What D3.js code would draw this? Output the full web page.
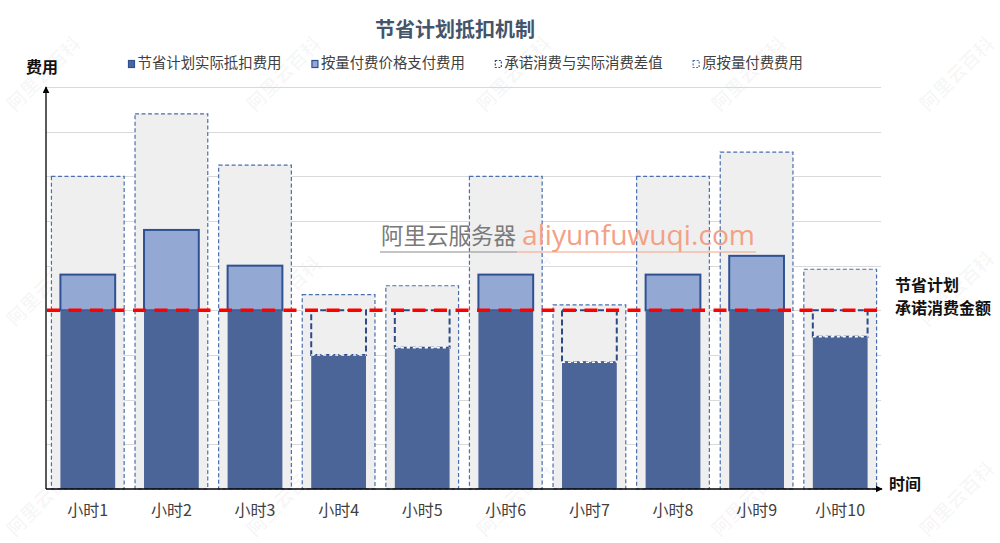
<!DOCTYPE html>
<html><head><meta charset="utf-8">
<script src="https://cdn.jsdelivr.net/npm/d3@7/dist/d3.min.js"></script>
<style>
html,body{margin:0;padding:0;background:#fff;}
svg{display:block;font-family:"Noto Sans CJK SC","Noto Sans",sans-serif;}
</style></head>
<body>
<svg id="chart" width="1000" height="543"></svg>
<script>
// ---- data ----
const categories = ["小时1","小时2","小时3","小时4","小时5","小时6","小时7","小时8","小时9","小时10"];
const originalCost = [7.0, 8.4, 7.25, 4.35, 4.55, 7.0, 4.12, 7.0, 7.54, 4.92];   // 原按量付费费用
const actualUsage  = [4.8, 5.8, 5.0, 3.0, 3.16, 4.8, 2.84, 4.8, 5.22, 3.41];     // 实际消费(按节省计划价格)
const commitment = 4.0;                                                        // 节省计划承诺消费金额
const legendLabels = ["节省计划实际抵扣费用","按量付费价格支付费用","承诺消费与实际消费差值","原按量付费费用"];
const yTicks = [1,2,3,4,5,6,7,8,9];

(function(){
const svg = d3.select("#chart");
const mLeft = 46, mRight = 882, mTop = 87, mBottom = 489;

const x = d3.scaleBand().domain(categories).range([mLeft, mRight]).padding(0);
const y = d3.scaleLinear().domain([0, 9]).range([mBottom, mTop]);

const C = {
  dark: "#4b6598", light: "#93a9d3", lightStroke: "#2f5193",
  outerFill: "#efefef", outerStroke: "#4a6fae", diffStroke: "#2c4a86",
  grid: "#d9d9d9", red: "#ff0000"
};

// watermarks (faint diagonal)
const wm = svg.append("g").attr("fill", "#000").attr("fill-opacity", 0.045)
  .attr("font-size", 19).attr("font-weight", "bold");
const wmPos = [[45,75],[285,75],[515,75],[750,75],[958,75],[45,290],[285,295],[515,290],[750,290],[958,290],[45,500],[285,500],[515,500],[750,500],[958,500]];
wmPos.forEach(p => wm.append("text").attr("transform", `translate(${p[0]},${p[1]}) rotate(-45)`)
  .attr("text-anchor", "middle").attr("dominant-baseline", "middle").text("阿里云百科"));

// gridlines
svg.append("g").selectAll("line").data(yTicks).join("line")
  .attr("x1", mLeft).attr("x2", mRight - 1)
  .attr("y1", d => Math.round(y(d)) + 0.5).attr("y2", d => Math.round(y(d)) + 0.5)
  .attr("stroke", C.grid).attr("stroke-width", 1);

const step = x.step();
const outerW = step * 0.87, innerW = step * 0.655;
const cx = c => x(c) + step / 2;

const bars = svg.append("g");
categories.forEach((c, i) => {
  const g = bars.append("g");
  g.append("rect")
    .attr("x", cx(c) - outerW / 2).attr("width", outerW)
    .attr("y", y(originalCost[i])).attr("height", y(0) - y(originalCost[i]))
    .attr("fill", C.outerFill).attr("stroke", C.outerStroke)
    .attr("stroke-width", 1.2).attr("stroke-dasharray", "4,2.5");
  const used = Math.min(actualUsage[i], commitment);
  if (actualUsage[i] > commitment) {
    g.append("rect")
      .attr("x", cx(c) - innerW / 2).attr("width", innerW)
      .attr("y", y(actualUsage[i])).attr("height", y(commitment) - y(actualUsage[i]))
      .attr("fill", C.light).attr("stroke", C.lightStroke).attr("stroke-width", 2);
  } else {
    g.append("rect")
      .attr("x", cx(c) - innerW / 2).attr("width", innerW)
      .attr("y", y(commitment)).attr("height", y(actualUsage[i]) - y(commitment))
      .attr("fill", C.outerFill).attr("stroke", C.diffStroke)
      .attr("stroke-width", 2).attr("stroke-dasharray", "6,3");
  }
  g.append("rect")
    .attr("x", cx(c) - innerW / 2).attr("width", innerW)
    .attr("y", y(used)).attr("height", y(0) - y(used))
    .attr("fill", C.dark);
  if (actualUsage[i] <= commitment) {
    g.append("line")
      .attr("x1", cx(c) - innerW / 2).attr("x2", cx(c) + innerW / 2)
      .attr("y1", y(used)).attr("y2", y(used))
      .attr("stroke", "#fff").attr("stroke-width", 1.5).attr("stroke-dasharray", "3,3");
  }
});

// commitment line
svg.append("line")
  .attr("x1", mLeft + 1).attr("x2", mRight - 2)
  .attr("y1", y(commitment)).attr("y2", y(commitment))
  .attr("stroke", C.red).attr("stroke-width", 3.5).attr("stroke-dasharray", "13,8.5");

// axes with arrows
const defs = svg.append("defs");
defs.append("marker").attr("id", "arrow").attr("viewBox", "0 0 10 10")
  .attr("refX", 9).attr("refY", 5).attr("markerWidth", 7).attr("markerHeight", 7)
  .attr("markerUnits", "userSpaceOnUse").attr("orient", "auto")
  .append("path").attr("d", "M0,0 L10,5 L0,10 z").attr("fill", "#000");

svg.append("line").attr("x1", mLeft).attr("x2", mLeft).attr("y1", mBottom).attr("y2", mTop)
  .attr("stroke", "#000").attr("stroke-width", 1.3).attr("marker-end", "url(#arrow)");
svg.append("line").attr("x1", mLeft).attr("x2", mRight).attr("y1", mBottom).attr("y2", mBottom)
  .attr("stroke", "#000").attr("stroke-width", 1.3).attr("marker-end", "url(#arrow)");

// category labels via axis
const xAxis = d3.axisBottom(x).tickSize(0).tickPadding(0);
const xg = svg.append("g").attr("transform", `translate(0,${mBottom})`).call(xAxis);
xg.select(".domain").remove();
xg.selectAll("text").attr("y", 21).attr("dy", "0.35em")
  .attr("font-size", 16).attr("fill", "#404040")
  .attr("font-family", "\"Noto Sans CJK SC\",sans-serif");

// axis titles
svg.append("text").attr("x", 26).attr("y", 69).attr("dominant-baseline", "middle")
  .attr("font-size", 16).attr("font-weight", "bold").attr("fill", "#111").text("费用");
svg.append("text").attr("x", 889).attr("y", 486).attr("dominant-baseline", "middle")
  .attr("font-size", 16).attr("font-weight", "bold").attr("fill", "#111").text("时间");

// commitment label
svg.append("text").attr("x", 895).attr("y", 287).attr("dominant-baseline", "middle")
  .attr("font-size", 16).attr("font-weight", "bold").attr("fill", "#111").text("节省计划");
svg.append("text").attr("x", 895).attr("y", 310).attr("dominant-baseline", "middle")
  .attr("font-size", 16).attr("font-weight", "bold").attr("fill", "#111").text("承诺消费金额");

// title
svg.append("text").attr("x", 455).attr("y", 32).attr("text-anchor", "middle").attr("dominant-baseline", "middle")
  .attr("font-size", 20).attr("font-weight", "bold").attr("fill", "#44546a").text("节省计划抵扣机制");

// legend
const legendStyles = [
  {fill: C.dark, stroke: C.lightStroke, dash: null},
  {fill: C.light, stroke: C.lightStroke, dash: null},
  {fill: "#fff", stroke: C.diffStroke, dash: "2,1.5"},
  {fill: "#fff", stroke: C.outerStroke, dash: "2,1.5"}
];
const lg = svg.append("g");
let lx = 128;
legendLabels.forEach((t, i) => {
  const s = legendStyles[i];
  lg.append("rect").attr("x", lx + 0.5).attr("y", 60.5).attr("width", 6).attr("height", 7)
    .attr("fill", s.fill).attr("stroke", s.stroke).attr("stroke-width", 1.2)
    .attr("stroke-dasharray", s.dash);
  const tx = lg.append("text").attr("x", lx + 9.5).attr("y", 64).attr("dominant-baseline", "middle")
    .attr("font-size", 14.4).attr("fill", "#404040").text(t);
  lx += 9.5 + tx.node().getComputedTextLength() + 30;
});

// central watermark
const cw = svg.append("g");
cw.append("text").attr("x", 381).attr("y", 238).attr("dominant-baseline", "middle")
  .attr("font-size", 22.5).attr("fill", "#7a7a7a")
  .attr("textLength", 135).attr("lengthAdjust", "spacingAndGlyphs").text("阿里云服务器");
cw.append("text").attr("x", 522).attr("y", 238).attr("dominant-baseline", "middle")
  .attr("font-size", 27).attr("fill", "#f3a184").attr("font-family", "\"Open Sans\",sans-serif")
  .attr("textLength", 233).attr("lengthAdjust", "spacingAndGlyphs").text("aliyunfuwuqi.com");
cw.append("line").attr("x1", 380).attr("x2", 517).attr("y1", 252).attr("y2", 252)
  .attr("stroke", "#8a8a8a").attr("stroke-width", 1);
cw.append("line").attr("x1", 517).attr("x2", 756).attr("y1", 252).attr("y2", 252)
  .attr("stroke", "#f3a184").attr("stroke-width", 1);
})();
</script>
</body></html>
